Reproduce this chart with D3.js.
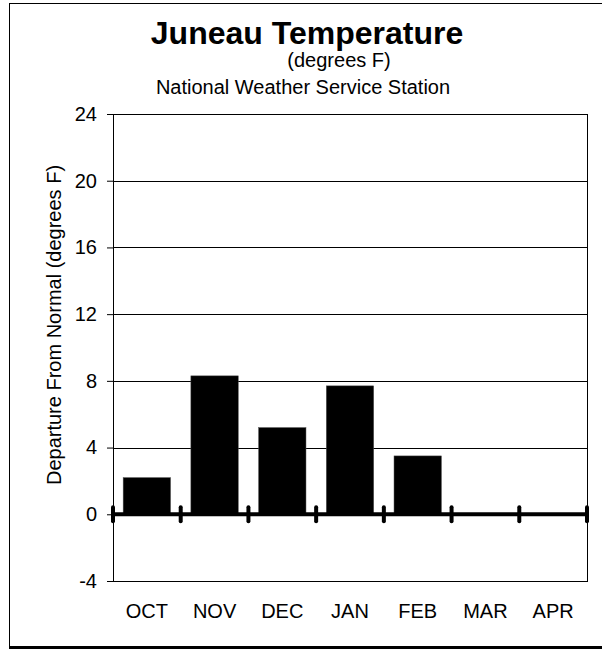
<!DOCTYPE html>
<html>
<head>
<meta charset="utf-8">
<script src="https://cdn.jsdelivr.net/npm/d3@7"></script>
<style>
  body { margin: 0; background: #fff; }
  text { font-family: "Liberation Sans", Arial, sans-serif; fill: #000; }
</style>
</head>
<body>
<svg width="602" height="650"></svg>
<script>
// data
var months = ["OCT", "NOV", "DEC", "JAN", "FEB", "MAR", "APR"];
var departure = [2.2, 8.3, 5.2, 7.7, 3.5, null, null];
var yTicks = [-4, 0, 4, 8, 12, 16, 20, 24];

var svg = d3.select("svg"),
    margin = { top: 114, right: 15, bottom: 69, left: 113 },
    width = +svg.attr("width") - margin.left - margin.right,
    height = +svg.attr("height") - margin.top - margin.bottom;

// outer frame (with a dark bottom edge like the original)
svg.append("rect")
    .attr("x", 9.5).attr("y", 3.5)
    .attr("width", 620).attr("height", 643)
    .attr("fill", "none")
    .attr("stroke", "#000")
    .attr("stroke-width", 1);
svg.append("line")
    .attr("x1", 9).attr("x2", 602)
    .attr("y1", 647.5).attr("y2", 647.5)
    .attr("stroke", "#000")
    .attr("stroke-width", 3);

// titles
svg.append("text")
    .attr("x", 307).attr("y", 44)
    .attr("text-anchor", "middle")
    .style("font-size", "32px")
    .style("font-weight", "bold")
    .text("Juneau Temperature");
svg.append("text")
    .attr("x", 339).attr("y", 67)
    .attr("text-anchor", "middle")
    .style("font-size", "20px")
    .text("(degrees F)");
svg.append("text")
    .attr("x", 303).attr("y", 94)
    .attr("text-anchor", "middle")
    .style("font-size", "20px")
    .text("National Weather Service Station");

var g = svg.append("g")
    .attr("transform", "translate(" + margin.left + "," + margin.top + ")");

var x = d3.scaleBand().domain(months).range([0, width]).paddingInner(0.3).paddingOuter(0.15);
var y = d3.scaleLinear().domain([-4, 24]).range([height, 0]);

// gridlines
g.append("g")
    .selectAll("line")
    .data(yTicks.filter(function (d) { return d > 0 && d < 24; }))
    .enter().append("line")
    .attr("x1", 0).attr("x2", width)
    .attr("y1", function (d) { return Math.round(y(d)) + 0.5; })
    .attr("y2", function (d) { return Math.round(y(d)) + 0.5; })
    .attr("stroke", "#000")
    .attr("stroke-width", 1);

// plot frame
g.append("rect")
    .attr("x", 0.5).attr("y", 0.5)
    .attr("width", width).attr("height", height)
    .attr("fill", "none")
    .attr("stroke", "#000");

// y axis (plain hyphen for negatives, like the original)
var yAxis = g.append("g")
    .call(d3.axisLeft(y).tickValues(yTicks).tickSize(6).tickPadding(10)
        .tickFormat(function (d) { return String(d); }))
    .call(function (a) { a.select(".domain").remove(); });
yAxis.selectAll("text")
    .style("font-family", "'Liberation Sans', Arial, sans-serif")
    .style("font-size", "20px");
yAxis.selectAll(".tick line").attr("stroke", "#000");

svg.append("text")
    .attr("transform", "translate(61,325) rotate(-90)")
    .attr("text-anchor", "middle")
    .style("font-size", "20px")
    .text("Departure From Normal (degrees F)");

// bars
g.append("g")
    .selectAll("rect")
    .data(months.map(function (m, i) { return { m: m, v: departure[i] }; })
        .filter(function (d) { return d.v != null; }))
    .enter().append("rect")
    .attr("x", function (d) { return x(d.m); })
    .attr("width", x.bandwidth())
    .attr("y", function (d) { return y(Math.max(0, d.v)); })
    .attr("height", function (d) { return Math.abs(y(d.v) - y(0)); })
    .attr("fill", "#000")
    .attr("stroke", "#555")
    .attr("stroke-width", 0.5);

// heavy zero line with category boundary ticks
g.append("line")
    .attr("x1", 0).attr("x2", width)
    .attr("y1", y(0)).attr("y2", y(0))
    .attr("stroke", "#000")
    .attr("stroke-width", 4);

g.append("g")
    .selectAll("line")
    .data(d3.range(months.length + 1))
    .enter().append("line")
    .attr("x1", function (i) { return i * width / months.length; })
    .attr("x2", function (i) { return i * width / months.length; })
    .attr("y1", y(0) - 7).attr("y2", y(0) + 7)
    .attr("stroke", "#000")
    .attr("stroke-width", 4)
    .attr("stroke-linecap", "round");

// month labels
g.append("g")
    .selectAll("text")
    .data(months)
    .enter().append("text")
    .attr("x", function (d) { return x(d) + x.bandwidth() / 2; })
    .attr("y", height + 37)
    .attr("text-anchor", "middle")
    .style("font-size", "20px")
    .text(function (d) { return d; });
</script>
</body>
</html>
